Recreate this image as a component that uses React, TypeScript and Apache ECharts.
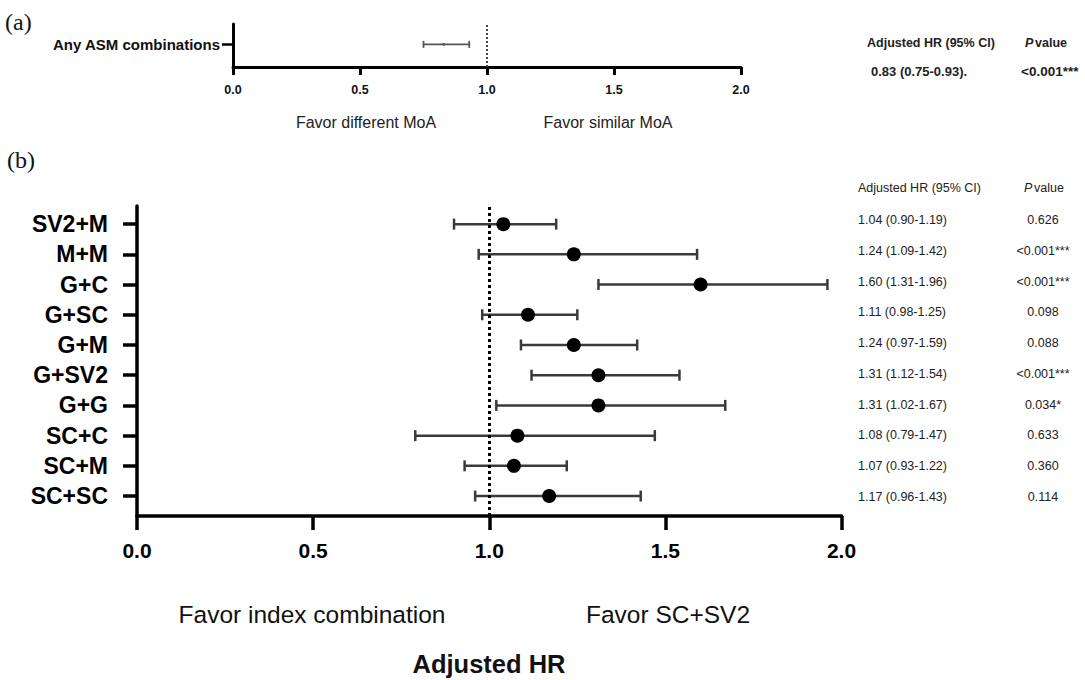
import React, { useEffect, useRef } from "react";
import * as echarts from "echarts";

// ---------- Panel (a) data ----------
const anyCategory = "Any ASM combinations";
const anyHR = [0.83];
const anyLow = [0.75];
const anyHigh = [0.93];
const anyHRText = ["0.83 (0.75-0.93)."];
const anyPText = ["<0.001***"];

// ---------- Panel (b) data (top to bottom) ----------
const categories = ["SV2+M", "M+M", "G+C", "G+SC", "G+M", "G+SV2", "G+G", "SC+C", "SC+M", "SC+SC"];
const hrValues = [1.04, 1.24, 1.6, 1.11, 1.24, 1.31, 1.31, 1.08, 1.07, 1.17];
const ciLow = [0.9, 0.97, 1.31, 0.98, 1.09, 1.12, 1.02, 0.79, 0.93, 0.96];
const ciHigh = [1.19, 1.59, 1.96, 1.25, 1.42, 1.54, 1.67, 1.47, 1.22, 1.43];
const hrText = [
  "1.04 (0.90-1.19)",
  "1.24 (1.09-1.42)",
  "1.60 (1.31-1.96)",
  "1.11 (0.98-1.25)",
  "1.24 (0.97-1.59)",
  "1.31 (1.12-1.54)",
  "1.31 (1.02-1.67)",
  "1.08 (0.79-1.47)",
  "1.07 (0.93-1.22)",
  "1.17 (0.96-1.43)",
];
const pText = ["0.626", "<0.001***", "<0.001***", "0.098", "0.088", "<0.001***", "0.034*", "0.633", "0.360", "0.114"];

const xMin = 0;
const xMax = 2;
const xInterval = 0.5;

const SANS = "'Liberation Sans', Arial, sans-serif";
const SERIF = "'Liberation Serif', 'Times New Roman', serif";

function errorBarRenderer(color: string, width: number, cap: number) {
  return (params: any, api: any) => {
    const y = api.value(2);
    const p1 = api.coord([api.value(0), y]);
    const p2 = api.coord([api.value(1), y]);
    const style = { stroke: color, lineWidth: width };
    return {
      type: "group",
      children: [
        { type: "line", shape: { x1: p1[0], y1: p1[1], x2: p2[0], y2: p2[1] }, style },
        { type: "line", shape: { x1: p1[0], y1: p1[1] - cap, x2: p1[0], y2: p1[1] + cap }, style },
        { type: "line", shape: { x1: p2[0], y1: p2[1] - cap, x2: p2[0], y2: p2[1] + cap }, style },
      ],
    };
  };
}

export default function App() {
  const ref = useRef<HTMLDivElement>(null);

  useEffect(() => {
    if (!ref.current) return;
    const chart = echarts.init(ref.current, null, { renderer: "svg" });
    const n = categories.length;
    const yPos = categories.map((_, i) => n - i);

    const texts: any[] = [];
    const addText = (
      text: string,
      x: number,
      y: number,
      font: string,
      align: string = "left",
      fill: string = "#111"
    ) => {
      texts.push({
        type: "text",
        x,
        y,
        silent: true,
        style: { text, font, textAlign: align, textVerticalAlign: "middle", fill },
      });
    };

    // panel labels
    addText("(a)", 5, 22, `24px ${SERIF}`);
    addText("(b)", 7, 160, `24px ${SERIF}`);

    // panel (a) favor texts
    addText("Favor different MoA", 366, 122, `16px ${SANS}`, "center", "#222");
    addText("Favor similar MoA", 608, 122, `16px ${SANS}`, "center", "#222");

    // panel (a) table
    addText("Adjusted HR (95% CI)", 867, 43, `bold 12.5px ${SANS}`, "left", "#222");
    addText("P", 1025, 43, `italic bold 12.5px ${SANS}`, "left", "#222");
    addText("value", 1035, 43, `bold 12.5px ${SANS}`, "left", "#222");
    anyHRText.forEach((t, i) => addText(t, 871, 71 + i * 30, `bold 13px ${SANS}`, "left", "#222"));
    anyPText.forEach((t, i) => addText(t, 1021, 71 + i * 30, `bold 13.5px ${SANS}`, "left", "#222"));

    // panel (b) table
    addText("Adjusted HR (95% CI)", 858, 188, `12.5px ${SANS}`, "left", "#222");
    addText("P", 1024, 188, `italic 12.5px ${SANS}`, "left", "#222");
    addText("value", 1034, 188, `12.5px ${SANS}`, "left", "#222");
    hrText.forEach((t, i) => addText(t, 858, 220 + i * 30.75, `12.5px ${SANS}`, "left", "#222"));
    pText.forEach((t, i) => addText(t, 1043, 220 + i * 30.75, `12.5px ${SANS}`, "center", "#222"));

    // panel (b) bottom texts
    addText("Favor index combination", 312, 614, `24.5px ${SANS}`, "center", "#111");
    addText("Favor SC+SV2", 668, 614, `24.5px ${SANS}`, "center", "#111");
    addText("Adjusted HR", 489, 664, `bold 25.5px ${SANS}`, "center", "#111");

    const option: any = {
      animation: false,
      backgroundColor: "#ffffff",
      grid: [
        { left: 233, right: 344, top: 24, height: 43 },
        { left: 137, right: 243.5, top: 206, height: 310 },
      ],
      xAxis: [
        {
          gridIndex: 0,
          type: "value",
          min: xMin,
          max: xMax,
          interval: xInterval,
          axisLine: { show: true, lineStyle: { color: "#000", width: 3 } },
          axisTick: { show: true, length: 8, lineStyle: { color: "#000", width: 3 } },
          axisLabel: {
            margin: 16,
            color: "#111",
            fontWeight: "bold",
            fontSize: 12.5,
            fontFamily: SANS,
            formatter: (v: number) => v.toFixed(1),
          },
          splitLine: { show: false },
        },
        {
          gridIndex: 1,
          type: "value",
          min: xMin,
          max: xMax,
          interval: xInterval,
          axisLine: { show: true, lineStyle: { color: "#000", width: 3.5 } },
          axisTick: { show: true, length: 14, lineStyle: { color: "#000", width: 3.5 } },
          axisLabel: {
            margin: 24,
            color: "#000",
            fontWeight: "bold",
            fontSize: 21,
            fontFamily: SANS,
            formatter: (v: number) => v.toFixed(1),
          },
          splitLine: { show: false },
        },
      ],
      yAxis: [
        {
          gridIndex: 0,
          type: "value",
          min: 0,
          max: 1.9,
          axisLine: { show: true, lineStyle: { color: "#000", width: 3 } },
          axisTick: { show: true, length: 11, customValues: [1], lineStyle: { color: "#000", width: 2.5 } },
          axisLabel: {
            customValues: [1],
            margin: 13,
            color: "#111",
            fontWeight: "bold",
            fontSize: 15,
            fontFamily: SANS,
            formatter: () => anyCategory,
          },
          splitLine: { show: false },
        },
        {
          gridIndex: 1,
          type: "value",
          min: 0.34,
          max: 10.6,
          axisLine: { show: true, lineStyle: { color: "#000", width: 3.5 } },
          axisTick: { show: true, length: 14, customValues: yPos, lineStyle: { color: "#000", width: 3.5 } },
          axisLabel: {
            customValues: yPos,
            margin: 29,
            color: "#000",
            fontWeight: "bold",
            fontSize: 23,
            fontFamily: SANS,
            formatter: (v: number) => categories[n - Math.round(v)] ?? "",
          },
          splitLine: { show: false },
        },
      ],
      series: [
        {
          type: "custom",
          xAxisIndex: 0,
          yAxisIndex: 0,
          renderItem: errorBarRenderer("#555", 1.8, 3.5),
          encode: { x: [0, 1], y: 2 },
          data: anyLow.map((lo, i) => [lo, anyHigh[i], 1]),
          z: 2,
        },
        {
          type: "scatter",
          xAxisIndex: 0,
          yAxisIndex: 0,
          symbol: "circle",
          symbolSize: 3,
          itemStyle: { color: "#555" },
          data: anyHR.map((v) => [v, 1]),
          markLine: {
            silent: true,
            symbol: "none",
            label: { show: false },
            lineStyle: { color: "#444", type: [2, 2], width: 2 },
            data: [{ xAxis: 1 }],
          },
          z: 3,
        },
        {
          type: "custom",
          xAxisIndex: 1,
          yAxisIndex: 1,
          renderItem: errorBarRenderer("#3a3a3a", 2.5, 5.5),
          encode: { x: [0, 1], y: 2 },
          data: ciLow.map((lo, i) => [lo, ciHigh[i], yPos[i]]),
          z: 2,
        },
        {
          type: "scatter",
          xAxisIndex: 1,
          yAxisIndex: 1,
          symbol: "circle",
          symbolSize: 14,
          itemStyle: { color: "#000", opacity: 1 },
          data: hrValues.map((v, i) => [v, yPos[i]]),
          markLine: {
            silent: true,
            symbol: "none",
            label: { show: false },
            lineStyle: { color: "#000", type: [3, 3], width: 3 },
            data: [{ xAxis: 1 }],
          },
          z: 3,
        },
      ],
      graphic: texts,
    };

    chart.setOption(option);
    return () => chart.dispose();
  }, []);

  return (
    <div
      ref={ref}
      style={{ position: "absolute", left: 0, top: 0, width: 1085, height: 680, background: "#fff" }}
    />
  );
}
